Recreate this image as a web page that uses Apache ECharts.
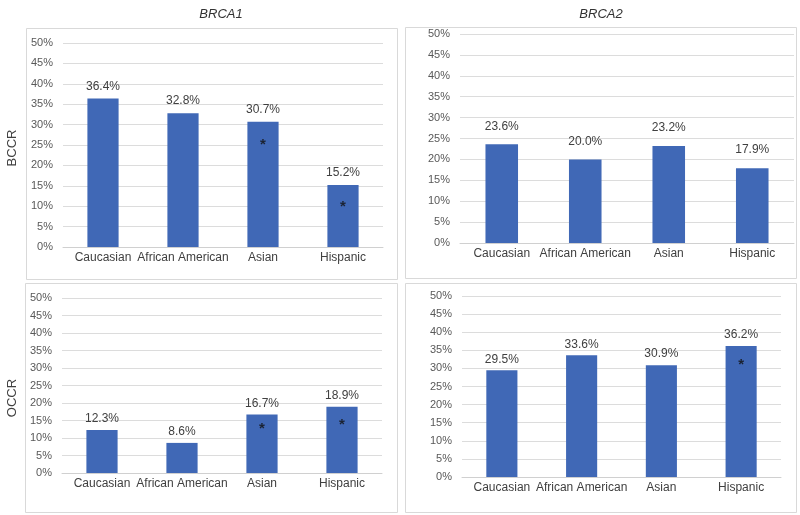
<!DOCTYPE html>
<html>
<head>
<meta charset="utf-8">
<script src="https://cdn.jsdelivr.net/npm/echarts@6/dist/echarts.min.js"></script>
<style>html,body{margin:0;padding:0;background:#fff;}#c{width:800px;height:515px;}</style>
</head>
<body>
<div id="c"></div>
<script>
// ---- data ----
const categories = ['Caucasian', 'African American', 'Asian', 'Hispanic'];
const geneTitles = ['BRCA1', 'BRCA2'];
const rowTitles = ['BCCR', 'OCCR'];
const bccrBRCA1 = [36.4, 32.8, 30.7, 15.2];
const bccrBRCA2 = [23.6, 20.0, 23.2, 17.9];
const occrBRCA1 = [12.3, 8.6, 16.7, 18.9];
const occrBRCA2 = [29.5, 33.6, 30.9, 36.2];
// asterisk (significance marker) positions, in axis units; null = none
const starBccrBRCA1 = [null, null, 26.0, 10.9];
const starBccrBRCA2 = [null, null, null, null];
const starOccrBRCA1 = [null, null, 13.7, 14.9];
const starOccrBRCA2 = [null, null, null, 32.0];
const yMax = 50, yStep = 5;

const barColor = '#4068b6';
const grids = [
  {left: 63, top: 43, width: 320, height: 204},
  {left: 460, top: 34, width: 334, height: 209},
  {left: 62, top: 298, width: 320, height: 175},
  {left: 462, top: 296, width: 319, height: 181}
];
const labelDist = [6, 12, 5, 5];
const panels = [
  [26, 28, 371, 251],
  [405, 27, 391, 251],
  [25, 283, 372, 229],
  [405, 283, 391, 229]
];
const barSets = [bccrBRCA1, bccrBRCA2, occrBRCA1, occrBRCA2];
const starSets = [starBccrBRCA1, starBccrBRCA2, starOccrBRCA1, starOccrBRCA2];
const FONT = 'Liberation Sans, Arial, sans-serif';

const xAxes = [], yAxes = [], series = [];
grids.forEach((g, i) => {
  xAxes.push({
    type: 'category', gridIndex: i, data: categories,
    axisTick: {show: false},
    axisLine: {lineStyle: {color: '#d0d0d0', width: 1}},
    axisLabel: {color: '#404040', fontSize: 12, fontFamily: FONT, margin: 5, interval: 0}
  });
  yAxes.push({
    type: 'value', gridIndex: i, min: 0, max: yMax, interval: yStep,
    axisLine: {show: false}, axisTick: {show: false},
    splitLine: {lineStyle: {color: '#dcdcdc', width: 1}},
    axisLabel: {formatter: '{value}%', color: '#595959', fontSize: 11, fontFamily: FONT, margin: 10}
  });
  series.push({
    type: 'bar', xAxisIndex: i, yAxisIndex: i, data: barSets[i],
    barWidth: '39%',
    itemStyle: {color: barColor},
    label: {show: true, position: 'top', distance: labelDist[i], formatter: p => p.value.toFixed(1) + '%',
      color: '#404040', fontSize: 12, fontFamily: FONT}
  });
  series.push({
    type: 'scatter', xAxisIndex: i, yAxisIndex: i, data: starSets[i],
    symbol: 'circle', symbolSize: 0, silent: true,
    label: {show: true, position: 'inside', formatter: '*', color: '#111', fontSize: 15, fontWeight: 'bold',
      fontFamily: FONT, offset: [0, 4]}
  });
});

const graphics = panels.map(p => ({
  type: 'rect', shape: {x: p[0] + 0.5, y: p[1] + 0.5, width: p[2], height: p[3]},
  style: {fill: 'none', stroke: '#d9d9d9', lineWidth: 1}, z: -1
}));

const chart = echarts.init(document.getElementById('c'), null, {renderer: 'canvas'});
chart.setOption({
  animation: false,
  backgroundColor: '#fff',
  title: [
    {text: geneTitles[0], left: 216, top: 3, textAlign: 'center', textStyle: {fontSize: 13, fontStyle: 'italic', fontWeight: 'normal', color: '#333', fontFamily: FONT}},
    {text: geneTitles[1], left: 596, top: 3, textAlign: 'center', textStyle: {fontSize: 13, fontStyle: 'italic', fontWeight: 'normal', color: '#333', fontFamily: FONT}}
  ],
  graphic: graphics.concat([
    {type: 'text', x: 12, y: 148, rotation: Math.PI / 2, style: {text: rowTitles[0], fill: '#404040', font: '13px Liberation Sans, Arial, sans-serif', align: 'center', verticalAlign: 'middle'}},
    {type: 'text', x: 12, y: 398, rotation: Math.PI / 2, style: {text: rowTitles[1], fill: '#404040', font: '13px Liberation Sans, Arial, sans-serif', align: 'center', verticalAlign: 'middle'}}
  ]),
  grid: grids,
  xAxis: xAxes,
  yAxis: yAxes,
  series: series
});
</script>
</body>
</html>
